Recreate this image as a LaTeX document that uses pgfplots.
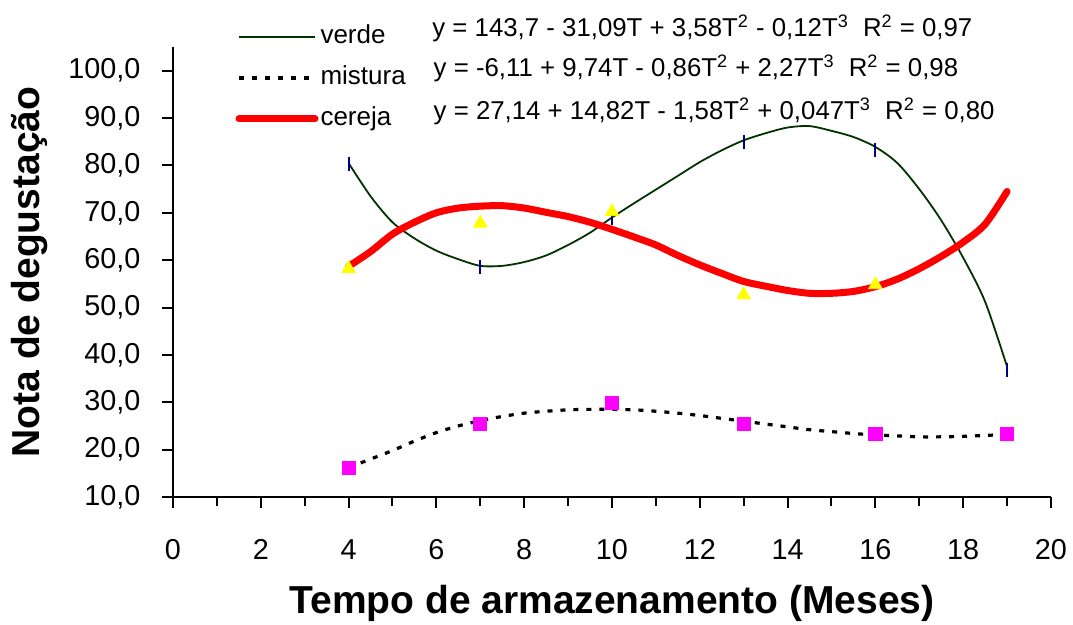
\documentclass[border=0pt]{standalone}
\usepackage{pgfplots}
\pgfplotsset{compat=1.18}
\usepackage{fontspec}
\setmainfont{Liberation Sans}
\definecolor{verdeline}{HTML}{003300}
\definecolor{navymark}{HTML}{000080}
\definecolor{mag}{HTML}{FF00FF}
\definecolor{yel}{HTML}{FFFF00}
\begin{document}
\begin{tikzpicture}
\useasboundingbox (-86.5pt,-64pt) rectangle (450pt,248.5pt);
\begin{axis}[
  scale only axis, width=439pt, height=225pt,
  at={(0pt,0pt)}, anchor=south west,
  xmin=0, xmax=20, ymin=10, ymax=105,
  clip=false,
  axis x line*=bottom, axis y line*=left,
  axis line style={line width=1pt},
  xtick={0,2,...,20}, minor xtick={1,3,...,19},
  ytick={10,20,...,100},
  tick align=outside, major tick length=5.5pt, minor tick length=4.5pt,
  every tick/.style={black, line width=1pt},
  every minor tick/.style={black, line width=1pt},
  /pgf/number format/assume math mode=true,
  tick label style={font=\fontsize{14.4}{16}\selectfont},
  xticklabel style={yshift=-12.35pt},
  yticklabel style={xshift=-7.3pt, /pgf/number format/.cd, fixed, fixed zerofill, precision=1, use comma, 1000 sep={}},
  xlabel={Tempo de armazenamento (Meses)},
  xlabel style={font=\bfseries\fontsize{19.5}{22}\selectfont, at={(axis description cs:0.5,-0.2356)}, anchor=center},
  ylabel={Nota de degustação},
  ylabel style={font=\bfseries\fontsize{19.5}{22}\selectfont, at={(axis description cs:-0.1629,0.5)}, anchor=center},
  legend style={at={(axis description cs:0.0712,1.054)}, anchor=north west, draw=none, fill=none,
    inner sep=0pt, outer sep=0pt, row sep=5.9pt, column sep=0pt,
    font=\fontsize{13}{15}\selectfont,
    nodes={inner sep=1pt, text height=9.5pt, text depth=3pt}},
  legend cell align=left,
  legend image code/.code={\draw[#1] (0pt,0pt) -- (38pt,0pt);},
]
% data markers
\addplot[only marks, mark=|, mark size=3.5pt, navymark, line width=1pt, forget plot]
  coordinates {(4,80.4) (7,58.6) (10,68.8) (13,85.0) (16,83.3) (19,36.8)};
\addplot[only marks, mark=square*, mark size=3.3pt, mag, forget plot]
  coordinates {(4,16.2) (7,25.5) (10,29.8) (13,25.5) (16,23.4) (19,23.4)};
\addplot[only marks, mark=triangle*, mark size=3.9pt, yel, forget plot]
  coordinates {(4,58.2) (7,67.8) (10,70.2) (13,52.7) (16,54.8)};
% curves
\addplot[verdeline, line width=0.9pt, smooth, no marks] coordinates {
 (4,80.5) (4.5,73.5) (5,68) (5.5,64.6) (6,62) (6.5,60.2) (7,58.8) (7.5,58.8) (8,59.6)
 (8.5,61) (9,63.2) (9.5,65.8) (10,69) (10.5,72) (11,74.9) (11.5,77.8) (12,80.7)
 (12.5,83.2) (13,85.3) (13.5,86.8) (14,88) (14.5,88.3) (15,87.3) (15.5,86) (16,83.9)
 (16.5,80.5) (17,75) (17.5,68.4) (18,60.5) (18.5,51.2) (19,37.5)};
\addlegendentry{verde}
\addplot[black, line width=1.6pt, dash pattern=on 2.5pt off 4pt, smooth, no marks] coordinates {
 (4,16.2) (4.5,18) (5,19.8) (5.5,21.8) (6,23.6) (6.5,25) (7,26.1) (7.5,27) (8,27.7)
 (8.5,28.1) (9,28.4) (9.5,28.5) (10,28.5) (10.5,28.4) (11,28.1) (11.5,27.7) (12,27.2)
 (12.5,26.6) (13,26) (13.5,25.4) (14,24.8) (14.5,24.2) (15,23.8) (15.5,23.4) (16,23.1)
 (16.5,22.9) (17,22.7) (17.5,22.7) (18,22.8) (18.5,23) (19,23.2)};
\addlegendentry{mistura}
\addplot[red, line width=3.5pt, line cap=round, smooth, no marks] coordinates {
 (4,58.7) (4.5,61.8) (5,65.5) (5.5,68) (6,70) (6.5,71) (7,71.4) (7.5,71.5) (8,71)
 (8.5,70.1) (9,69.2) (9.5,68) (10,66.5) (10.5,64.9) (11,63.2) (11.5,61) (12,59)
 (12.5,57.2) (13,55.5) (13.5,54.5) (14,53.6) (14.5,53) (15,53) (15.5,53.4) (16,54.4)
 (16.5,56) (17,58.2) (17.5,60.8) (18,63.8) (18.5,67.6) (19,74.5)};
\addlegendentry{cereja}
% equations
\node[anchor=west, inner sep=0pt, font=\fontsize{12.9}{15}\selectfont] at (axis cs:5.9,108.95)
  {y = 143,7 - 31,09T + 3,58T\textsuperscript{2} - 0,12T\textsuperscript{3}\hspace{0.55em}R\textsuperscript{2} = 0,97};
\node[anchor=west, inner sep=0pt, font=\fontsize{12.9}{15}\selectfont] at (axis cs:5.93,100.5)
  {y = -6,11 + 9,74T - 0,86T\textsuperscript{2} + 2,27T\textsuperscript{3}\hspace{0.55em}R\textsuperscript{2} = 0,98};
\node[anchor=west, inner sep=0pt, font=\fontsize{12.9}{15}\selectfont] at (axis cs:5.93,91.4)
  {y = 27,14 + 14,82T - 1,58T\textsuperscript{2} + 0,047T\textsuperscript{3}\hspace{0.55em}R\textsuperscript{2} = 0,80};
\end{axis}
\end{tikzpicture}
\end{document}
